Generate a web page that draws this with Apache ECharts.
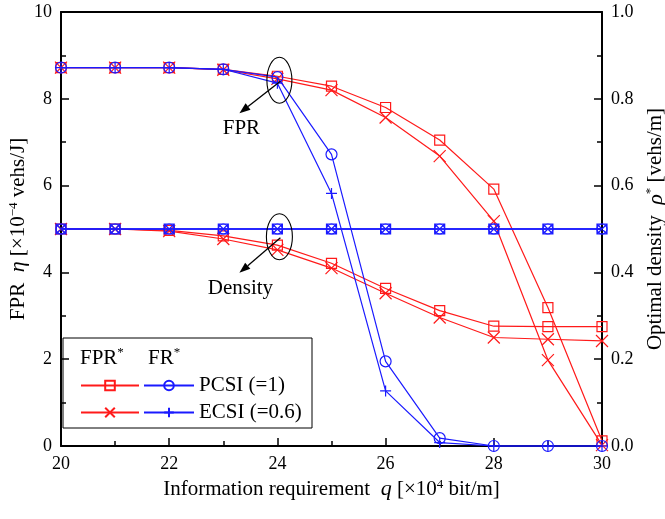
<!DOCTYPE html>
<html>
<head>
<meta charset="utf-8">
<script src="https://cdn.jsdelivr.net/npm/echarts@6/dist/echarts.min.js"></script>
<style>html,body{margin:0;padding:0;background:#fff}#c{width:665px;height:519px}</style>
</head>
<body>
<div id="c"></div>
<script>
// ---- data ----
const qValues = [20, 21, 22, 23, 24, 25, 26, 27, 28, 29, 30];
const fprStarPCSI_FPR = [8.72, 8.72, 8.72, 8.68, 8.52, 8.29, 7.80, 7.05, 5.92, 3.19, 0.12];
const fprStarECSI_FPR = [8.72, 8.72, 8.72, 8.67, 8.46, 8.20, 7.57, 6.68, 5.18, 1.98, 0.02];
const frStarPCSI_FPR  = [8.72, 8.72, 8.72, 8.68, 8.50, 6.72, 1.95, 0.18, 0.00, 0.00, 0.00];
const frStarECSI_FPR  = [8.72, 8.72, 8.72, 8.68, 8.36, 5.82, 1.27, 0.08, 0.00, 0.00, 0.00];
const fprStarPCSI_Den = [0.500, 0.500, 0.497, 0.484, 0.463, 0.421, 0.363, 0.312, 0.276, 0.275, 0.275];
const fprStarECSI_Den = [0.500, 0.500, 0.495, 0.477, 0.452, 0.410, 0.352, 0.296, 0.250, 0.246, 0.242];
const frStarPCSI_Den  = [0.5, 0.5, 0.5, 0.5, 0.5, 0.5, 0.5, 0.5, 0.5, 0.5, 0.5];
const frStarECSI_Den  = [0.5, 0.5, 0.5, 0.5, 0.5, 0.5, 0.5, 0.5, 0.5, 0.5, 0.5];
const xTicks = [20, 22, 24, 26, 28, 30];
const leftTicks = [0, 2, 4, 6, 8, 10];
const rightTicks = ['0.0', '0.2', '0.4', '0.6', '0.8', '1.0'];

const pair = arr => arr.map((v, i) => [qValues[i], v]);

const RED = '#ff1a1a', BLUE = '#1a1aff';
const FONT = 'Liberation Serif';
const SYM_X = 'path://M0,0L10,10M10,0L0,10';
const SYM_PLUS = 'path://M5,0L5,10M0,5L10,5';
const SYM_SQX = 'path://M0,0H10V10H0ZM0,0L10,10M10,0L0,10';

function ser(name, data, yIdx, color, symbol, size, lw, z) {
  return {
    name: name, type: 'line', data: pair(data), yAxisIndex: yIdx,
    symbol: symbol, symbolSize: size, showAllSymbol: true, clip: false, z: z,
    lineStyle: {color: color, width: lw},
    itemStyle: {color: 'transparent', borderColor: color, borderWidth: 1.2},
    emphasis: {disabled: true}, animation: false
  };
}

const axisCommon = {
  axisLine: {show: true, onZero: false, lineStyle: {color: '#000', width: 2}},
  axisTick: {show: true, inside: true, length: 8, lineStyle: {color: '#000', width: 1.5}},
  minorTick: {show: true, splitNumber: 2, length: 5, lineStyle: {color: '#000', width: 1.5}},
  splitLine: {show: false},
  axisLabel: {color: '#000', fontFamily: FONT, fontSize: 18, margin: 9}
};
const nameRich = {
  n: {fontFamily: FONT, fontSize: 21, color: '#000'},
  i: {fontFamily: FONT, fontSize: 22, fontStyle: 'italic', color: '#000'},
  s: {fontFamily: FONT, fontSize: 13, color: '#000', padding: [0, 0, 10, 0]}
};

const chart = echarts.init(document.getElementById('c'), null, {renderer: 'canvas'});
const option = {
  animation: false,
  backgroundColor: '#fff',
  grid: {left: 61, right: 63, top: 12, bottom: 73, containLabel: false, outerBoundsMode: 'none'},
  xAxis: [Object.assign({}, axisCommon, {
    type: 'value', min: 20, max: 30, interval: 2, position: 'bottom',
    axisLabel: Object.assign({}, axisCommon.axisLabel, {formatter: v => xTicks.includes(v) ? String(v) : ''}),
    name: '{n|Information requirement  }{i|q}{n| [×10}{s|4}{n| bit/m]}',
    nameLocation: 'middle', nameGap: 32,
    nameTextStyle: {rich: nameRich}
  }), {
    type: 'value', min: 20, max: 30, position: 'top',
    axisLine: {show: true, onZero: false, lineStyle: {color: '#000', width: 2}},
    axisTick: {show: false}, axisLabel: {show: false}, splitLine: {show: false}
  }],
  yAxis: [Object.assign({}, axisCommon, {
    type: 'value', min: 0, max: 10, interval: 2, position: 'left',
    axisLabel: Object.assign({}, axisCommon.axisLabel, {formatter: v => leftTicks.includes(v) ? String(v) : ''}),
    name: '{n|FPR  }{i|η}{n| [×10}{s|−4}{n| vehs/J]}',
    nameLocation: 'middle', nameGap: 31, nameRotate: 90, nameMoveOverlap: false,
    nameTextStyle: {rich: nameRich}
  }), Object.assign({}, axisCommon, {
    type: 'value', min: 0, max: 1.0, interval: 0.2, position: 'right',
    axisLabel: Object.assign({}, axisCommon.axisLabel, {formatter: v => rightTicks[Math.round(v * 5)] || ''}),
    name: '{n|Optimal density  }{i|ρ}{s|*}{n| [vehs/m]}',
    nameLocation: 'middle', nameGap: 34, nameRotate: 90,
    nameTextStyle: {rich: nameRich}
  })],
  legend: [{
    data: ['FPR* PCSI', 'FPR* ECSI'], orient: 'vertical', left: 80, top: 375, padding: 0,
    itemWidth: 58, itemHeight: 12, itemGap: 6, formatter: () => ' ', selectedMode: false,
    textStyle: {fontFamily: FONT, fontSize: 21, color: '#000', lineHeight: 21}
  }, {
    data: ['FR* PCSI', 'FR* ECSI'], orient: 'vertical', left: 143, top: 375, padding: 0,
    itemWidth: 50, itemHeight: 12, itemGap: 6, selectedMode: false,
    formatter: n => n === 'FR* PCSI' ? 'PCSI (=1)' : 'ECSI (=0.6)',
    textStyle: {fontFamily: FONT, fontSize: 21, color: '#000', lineHeight: 21}
  }],
  series: [
    ser('FPR* PCSI', fprStarPCSI_FPR, 0, RED, 'rect', 10, 1.2, 2),
    ser('FPR* ECSI', fprStarECSI_FPR, 0, RED, SYM_X, 12, 1.2, 2),
    ser('FPR* PCSI den', fprStarPCSI_Den, 1, RED, 'rect', 10, 1.2, 2),
    ser('FPR* ECSI den', fprStarECSI_Den, 1, RED, SYM_X, 12, 1.2, 2),
    ser('FR* PCSI', frStarPCSI_FPR, 0, BLUE, 'circle', 11, 1.2, 3),
    ser('FR* ECSI', frStarECSI_FPR, 0, BLUE, SYM_PLUS, 11, 1.2, 3),
    ser('FR* PCSI den', frStarPCSI_Den, 1, BLUE, 'circle', 10, 1.6, 3),
    ser('FR* ECSI den', frStarECSI_Den, 1, BLUE, SYM_SQX, 10, 1.6, 3)
  ]
};
chart.setOption(option);

// ---- annotations (anchored to data coordinates) ----
function px(x, y, yIdx) {
  return chart.convertToPixel({xAxisIndex: 0, yAxisIndex: yIdx}, [x, y]);
}
function arrow(from, to) {
  const dx = to[0] - from[0], dy = to[1] - from[1];
  const L = Math.hypot(dx, dy), ux = dx / L, uy = dy / L;
  const hl = 11, hw = 4;
  const bx = to[0] - ux * hl, by = to[1] - uy * hl;
  return [{
    type: 'line', shape: {x1: from[0], y1: from[1], x2: bx, y2: by},
    style: {stroke: '#000', lineWidth: 1.3}, z: 10
  }, {
    type: 'polygon', shape: {points: [to, [bx - uy * hw, by + ux * hw], [bx + uy * hw, by - ux * hw]]},
    style: {fill: '#000'}, z: 10
  }];
}
const e1 = px(24, 8.45, 0);
const e2 = px(24, 0.482, 1);
const g = [];
g.push({type: 'ellipse', shape: {cx: e1[0] + 2, cy: e1[1] + 1, rx: 12.5, ry: 23}, style: {fill: 'none', stroke: '#000', lineWidth: 1.1}, z: 10});
g.push(...arrow([e1[0] + 3, e1[1] + 2], [e1[0] - 38, e1[1] + 34]));
g.push({type: 'text', x: e1[0] - 36, y: e1[1] + 49, style: {text: 'FPR', font: '21px "Liberation Serif"', fill: '#000', textAlign: 'center', textVerticalAlign: 'middle'}, z: 10});
g.push({type: 'ellipse', shape: {cx: e2[0] + 2, cy: e2[1], rx: 13, ry: 23}, style: {fill: 'none', stroke: '#000', lineWidth: 1.1}, z: 10});
g.push(...arrow([e2[0] + 3, e2[1] + 1], [e2[0] - 38, e2[1] + 36]));
g.push({type: 'text', x: e2[0] - 37, y: e2[1] + 52, style: {text: 'Density', font: '21px "Liberation Serif"', fill: '#000', textAlign: 'center', textVerticalAlign: 'middle'}, z: 10});
// legend frame and header
g.push({type: 'rect', shape: {x: 63, y: 338, width: 249, height: 90}, style: {fill: 'none', stroke: '#000', lineWidth: 1}, z: 5});
const hdrRich = {n: {fontFamily: FONT, fontSize: 21, fill: '#000'}, s: {fontFamily: FONT, fontSize: 13, fill: '#000', padding: [0, 0, 10, 0]}};
g.push({type: 'text', x: 80, y: 358, style: {text: '{n|FPR}{s|*}', textVerticalAlign: 'middle', rich: hdrRich}, z: 10});
g.push({type: 'text', x: 148, y: 358, style: {text: '{n|FR}{s|*}', textVerticalAlign: 'middle', rich: hdrRich}, z: 10});
chart.setOption({graphic: g});
</script>
</body>
</html>
